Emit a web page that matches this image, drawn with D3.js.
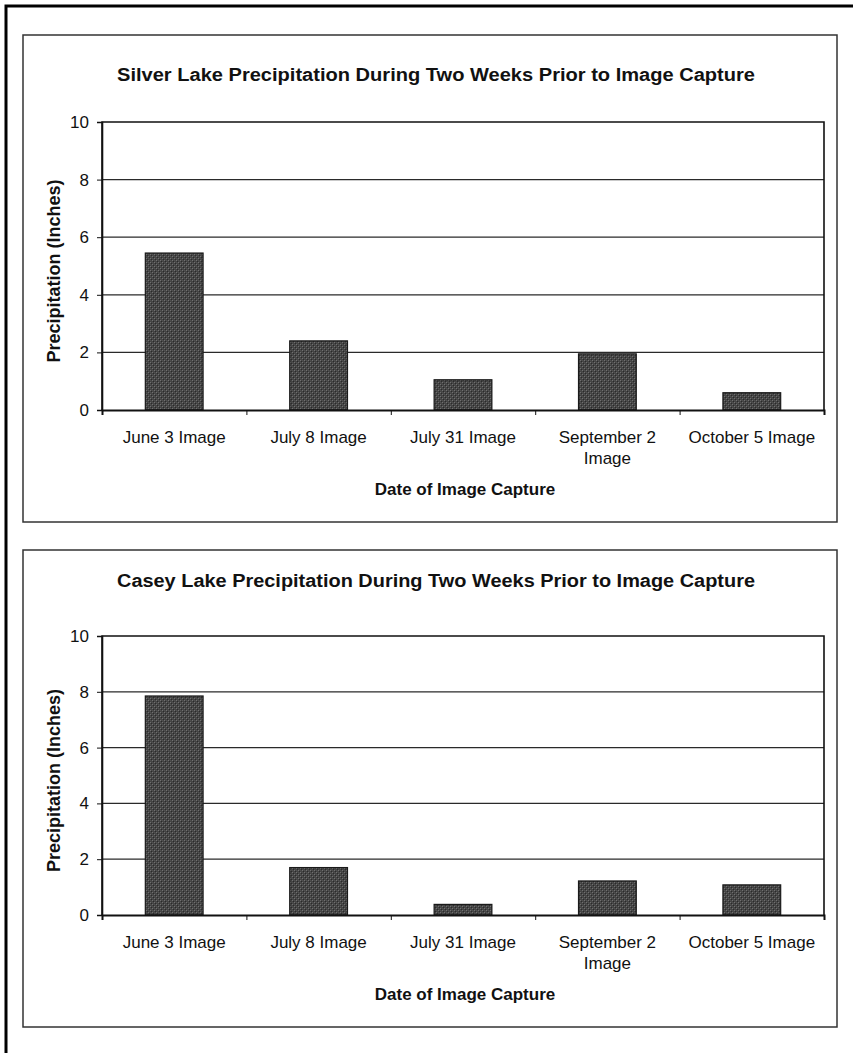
<!DOCTYPE html>
<html><head><meta charset="utf-8">
<script src="https://cdn.jsdelivr.net/npm/d3@7"></script>
<style>
body{margin:0;background:#fff}
svg{display:block}
text{font-family:"Liberation Sans",Arial,Helvetica,sans-serif;fill:#111}
</style>
</head><body>
<svg id="c" width="853" height="1053"></svg>
<script>
// ---- data ----
const categories = ["June 3 Image", "July 8 Image", "July 31 Image", "September 2 Image", "October 5 Image"];
const categoryLines = [["June 3 Image"], ["July 8 Image"], ["July 31 Image"], ["September 2", "Image"], ["October 5 Image"]];
const silverValues = [5.45, 2.4, 1.05, 1.95, 0.6];
const caseyValues = [7.85, 1.7, 0.38, 1.22, 1.08];
const yTickValues = [0, 2, 4, 6, 8, 10];
const silverTitle = "Silver Lake Precipitation During Two Weeks Prior to Image Capture";
const caseyTitle = "Casey Lake Precipitation During Two Weeks Prior to Image Capture";
const yAxisTitle = "Precipitation (Inches)";
const xAxisTitle = "Date of Image Capture";

const svg = d3.select("#c");

// dithered dark-grey fill like the scanned bars
const defs = svg.append("defs");
const pat = defs.append("pattern").attr("id", "dither")
  .attr("width", 4).attr("height", 4).attr("patternUnits", "userSpaceOnUse");
pat.append("rect").attr("width", 4).attr("height", 4).attr("fill", "#444");
[[0,0,"#707070"],[2,2,"#707070"],[1,1,"#2a2a2a"],[3,3,"#2a2a2a"],[2,0,"#505050"],[0,2,"#505050"]].forEach(([x,y,c]) =>
  pat.append("rect").attr("x", x).attr("y", y).attr("width", 1).attr("height", 1).attr("fill", c));

// outer page border (left and top)
svg.append("path").attr("d", "M6,1053V6H853").attr("fill", "none")
  .attr("stroke", "#000").attr("stroke-width", 3);

const panels = [
  {title: silverTitle, values: silverValues, box: [23, 35, 837, 522], plot: [102, 122, 824, 410], titleY: 81},
  {title: caseyTitle, values: caseyValues, box: [23, 550, 837, 1027], plot: [102, 636, 824, 915], titleY: 587}
];

panels.forEach(p => {
  const [bx0, by0, bx1, by1] = p.box;
  const [px0, py0, px1, py1] = p.plot;
  const g = svg.append("g");

  g.append("rect").attr("x", bx0).attr("y", by0).attr("width", bx1 - bx0).attr("height", by1 - by0)
    .attr("fill", "none").attr("stroke", "#333").attr("stroke-width", 1.5);

  g.append("text").attr("x", (bx0 + bx1) / 2 + 6).attr("y", p.titleY)
    .attr("text-anchor", "middle").attr("font-weight", "bold").attr("font-size", 18)
    .attr("textLength", 638).attr("lengthAdjust", "spacingAndGlyphs")
    .text(p.title);

  const x = d3.scaleBand().domain(categories).range([px0, px1]).paddingInner(0.6).paddingOuter(0.3);
  const xb = d3.scalePoint().domain(d3.range(categories.length + 1)).range([px0, px1]);
  const y = d3.scaleLinear().domain([0, 10]).range([py1, py0]);

  // gridlines
  g.append("g").selectAll("line").data(yTickValues.filter(v => v > 0 && v < 10)).join("line")
    .attr("x1", px0).attr("x2", px1).attr("y1", d => y(d)).attr("y2", d => y(d))
    .attr("stroke", "#2a2a2a").attr("stroke-width", 1.3);

  // plot frame (left, top, right)
  g.append("path").attr("d", `M${px0},${py1}V${py0}H${px1}V${py1}`)
    .attr("fill", "none").attr("stroke", "#111").attr("stroke-width", 1.6);

  // bars
  g.append("g").selectAll("rect").data(p.values).join("rect")
    .attr("x", (d, i) => x(categories[i])).attr("width", x.bandwidth())
    .attr("y", d => y(d)).attr("height", d => y(0) - y(d))
    .attr("fill", "url(#dither)").attr("stroke", "#1a1a1a").attr("stroke-width", 1.2);

  // y axis
  const ya = g.append("g").attr("transform", `translate(${px0},0)`)
    .call(d3.axisLeft(y).tickValues(yTickValues).tickSize(5).tickPadding(8).tickFormat(d3.format("d")));
  ya.select(".domain").attr("stroke", "#111").attr("stroke-width", 1.6);
  ya.selectAll(".tick line").attr("stroke", "#111");
  ya.selectAll(".tick text").attr("font-size", 17).attr("fill", "#111")
    .attr("font-family", "\"Liberation Sans\",Arial,sans-serif");

  // x axis with ticks at category boundaries
  const xa = g.append("g").attr("transform", `translate(0,${py1})`)
    .call(d3.axisBottom(xb).tickSize(5).tickFormat(""));
  xa.select(".domain").attr("stroke", "#111").attr("stroke-width", 2);
  xa.selectAll(".tick line").attr("stroke", "#111");

  // category labels
  const cl = g.append("g").selectAll("text").data(categoryLines).join("text")
    .attr("x", (d, i) => x(categories[i]) + x.bandwidth() / 2)
    .attr("y", py1 + 33).attr("text-anchor", "middle").attr("font-size", 17);
  cl.selectAll("tspan").data(d => d).join("tspan")
    .attr("x", function () { return d3.select(this.parentNode).attr("x"); })
    .attr("dy", (d, i) => i === 0 ? 0 : 21).text(d => d);

  // axis titles
  g.append("text").attr("x", (px0 + px1) / 2 + 2).attr("y", py1 + 85)
    .attr("text-anchor", "middle").attr("font-weight", "bold").attr("font-size", 17)
    .text(xAxisTitle);
  g.append("text").attr("transform", `translate(60,${(py0 + py1) / 2 + 5}) rotate(-90)`)
    .attr("text-anchor", "middle").attr("font-weight", "bold").attr("font-size", 18)
    .text(yAxisTitle);
});
</script>
</body></html>
